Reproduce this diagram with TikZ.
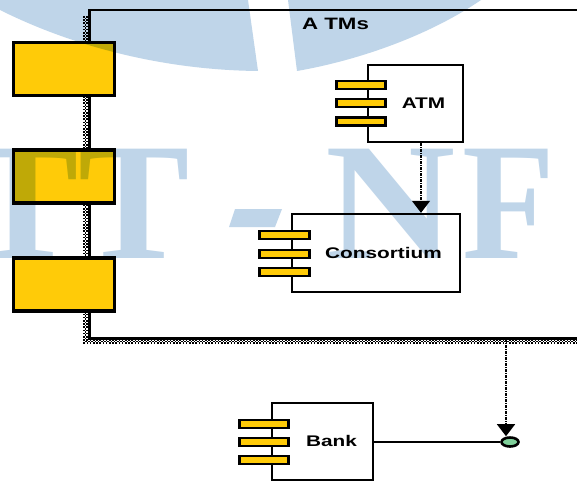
\documentclass[tikz,border=0pt]{standalone}
\usepackage{fontspec}
\usepackage{graphicx}
\newfontfamily\labelfont[FakeStretch=1.35]{Liberation Sans}
\newfontfamily\markfont{Liberation Serif}
\usetikzlibrary{arrows.meta,shapes.geometric}
\definecolor{compyellow}{HTML}{FFCB08}
\definecolor{markblue}{HTML}{BFD5E9}
\definecolor{ifacegreen}{HTML}{7FD09A}
\tikzset{
  plainbox/.style={draw=black,line width=2.4pt,fill=white,rectangle,inner sep=0pt},
  bigyellow/.style={draw=black,line width=3.2pt,fill=compyellow,rectangle,inner sep=0pt,minimum width=101pt,minimum height=53pt},
  tabbox/.style={draw=black,line width=2.6pt,fill=compyellow,rectangle,inner sep=0pt,minimum width=49.5pt,minimum height=8pt},
  lbl/.style={font=\labelfont\bfseries\fontsize{15.4}{18}\selectfont,text=black,inner sep=0pt},
  depline/.style={draw=black,line width=1.5pt,dash pattern=on 3pt off 1pt on 1pt off 1pt,
    -{Triangle[length=12pt,width=18pt,fill=black]}},
  shadowa/.style={draw=black,line width=1.6pt,dash pattern=on 1.6pt off 1.6pt},
  shadowb/.style={draw=black,line width=1.6pt,dash pattern=on 1.6pt off 1.6pt,dash phase=1.6pt},
  markfill/.style={fill=markblue,draw=none},
  marktext/.style={font=\markfont\bfseries\fontsize{167}{167}\selectfont,text=markblue,inner sep=0pt,anchor=base west}
}
\begin{document}
\begin{tikzpicture}[x=1pt,y=-1pt]
\useasboundingbox (0,0) rectangle (577,481);
\clip (0,0) rectangle (577,481);
\fill[white] (0,0) rectangle (577,481);

% package shadow
\draw[shadowa] (84,16) -- (84,343) -- (577,343);
\draw[shadowb] (85.6,16) -- (85.6,341.4) -- (577,341.4);
\draw[shadowa] (87.2,16) -- (87.2,339.8) -- (577,339.8);

% package
\node[plainbox,minimum width=520pt,minimum height=328pt,line width=1.8pt] (pkg) at (350,174) {};
\draw[black,line width=3pt] (pkg.north west) -- (pkg.south west) -- (pkg.south east);
\node[lbl,font=\labelfont\bfseries\fontsize{16.5}{18}\selectfont] (pkgname) at (335.5,24) {A TMs};

% big yellow boxes on the package edge
\node[bigyellow] (y1) at (64,69) {};
\node[bigyellow] (y2) at (64,176.5) {};
\node[bigyellow] (y3) at (64,284.5) {};

% ATM
\node[plainbox,minimum width=95pt,minimum height=77pt] (atm) at (415.5,103.5) {};
\node[tabbox] (atm1) at (361,85) {};
\node[tabbox] (atm2) at (361,103) {};
\node[tabbox] (atm3) at (361,121.5) {};
\node[lbl] (atml) at (423.5,103) {ATM};

% Consortium
\node[plainbox,minimum width=168pt,minimum height=78pt] (cons) at (376,253) {};
\node[tabbox] (cons1) at (284.5,235) {};
\node[tabbox] (cons2) at (284.5,254) {};
\node[tabbox] (cons3) at (284.5,272) {};
\node[lbl] (consl) at (383.5,253) {Consortium};

% Bank
\node[plainbox,minimum width=101pt,minimum height=77pt] (bank) at (322.5,441.5) {};
\node[tabbox] (bank1) at (264,424) {};
\node[tabbox] (bank2) at (264,442) {};
\node[tabbox] (bank3) at (264,460) {};
\node[lbl] (bankl) at (331.5,441) {Bank};

% interface
\node[draw=black,line width=2.6pt,fill=ifacegreen,ellipse,inner sep=0pt,minimum width=17pt,minimum height=9pt] (iface) at (510,442) {};

% connectors
\coordinate (dx1) at (421,178);
\coordinate (dx2) at (506,380);
\draw[depline] (dx1 |- atm.south) -- (dx1 |- cons.north);
\draw[black,line width=2pt] (bank.east |- iface) -- (iface.west);
\draw[depline] (dx2 |- pkg.south) -- (dx2 |- iface.north);

% watermark, multiplied over everything
\begin{scope}[blend mode=multiply]
  \path[markfill] (0,10) .. controls (70,45) and (160,70) .. (258,71) -- (248,0) -- (0,0) -- cycle;
  \path[markfill] (288,0) -- (297,71) .. controls (360,60) and (430,35) .. (481,0) -- cycle;
  \node[marktext] (markt) at (-33,258) {TT};
  \path[markfill] (235,209) -- (282,209) -- (275,227) -- (229,227) -- cycle;
  \node[marktext] (markn) at (325,258) {\scalebox{1.08}[1]{N}};
  \node[marktext] (markf) at (462.5,258) {\scalebox{0.91}[1]{F}};
\end{scope}
\end{tikzpicture}
\end{document}
